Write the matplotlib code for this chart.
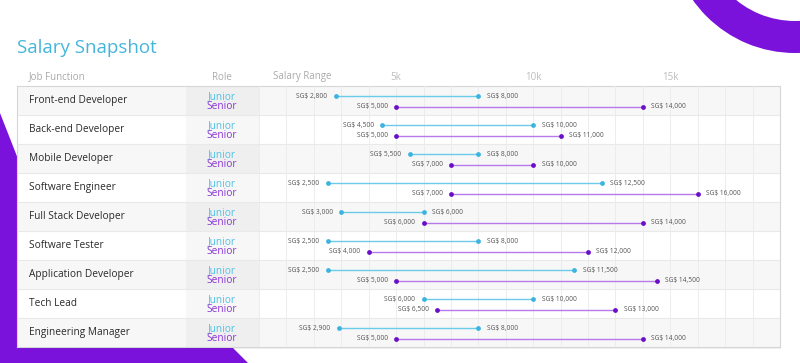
import matplotlib
matplotlib.use("Agg")
import matplotlib.pyplot as plt
from matplotlib.patches import Rectangle, Polygon, Wedge

# ---------------- data ----------------
jobs = ["Front-end Developer", "Back-end Developer", "Mobile Developer",
        "Software Engineer", "Full Stack Developer", "Software Tester",
        "Application Developer", "Tech Lead", "Engineering Manager"]
junior_min = [2800, 4500, 5500, 2500, 3000, 2500, 2500, 6000, 2900]
junior_max = [8000, 10000, 8000, 12500, 6000, 8000, 11500, 10000, 8000]
senior_min = [5000, 5000, 7000, 7000, 6000, 4000, 5000, 6500, 5000]
senior_max = [14000, 11000, 10000, 16000, 14000, 12000, 14500, 13000, 14000]
roles = ["Junior", "Senior"]
x_ticks = [5000, 10000, 15000]
x_tick_labels = ["5k", "10k", "15k"]
columns = ["Job Function", "Role", "Salary Range"]
title = "Salary Snapshot"

# ---------------- style ----------------
FONT = ["Open Sans", "DejaVu Sans"]
plt.rcParams["font.family"] = FONT
W, H = 800, 363
PURPLE = "#7a12dc"
J_LINE, J_DOT, J_TXT = "#6ccbea", "#3bb5e0", "#4fc1e6"
S_LINE, S_DOT, S_TXT = "#b779ec", "#6a0fc8", "#8a34d6"

fig = plt.figure(figsize=(W / 100, H / 100), dpi=100)

def fig_rect(x0, y0, x1, y1):
    return [x0 / W, 1 - y1 / H, (x1 - x0) / W, (y1 - y0) / H]

# decoration layer
bg = fig.add_axes([0, 0, 1, 1], zorder=0)
bg.set_xlim(0, W)
bg.set_ylim(H, 0)
bg.axis("off")
bg.add_patch(Wedge((795, -72), 125, 0, 360, width=32, color=PURPLE, lw=0))
bg.add_patch(Polygon([(0, 113), (40, 215), (40, 348), (233, 348), (248, 363), (0, 363)],
                     closed=True, color=PURPLE, lw=0))
# subtle table shadow
bg.add_patch(Rectangle((18, 87), 763, 262, color="#000000", alpha=0.06, lw=0))

TX0, TX1, TY0, TY1 = 17, 780, 86, 347
SAL_X0 = 259
n = len(jobs)

# table layer (pixel x, row y)
tab = fig.add_axes(fig_rect(TX0, TY0, TX1, TY1), zorder=1)
tab.set_xlim(TX0, TX1)
tab.set_ylim(n, 0)
tab.set_xticks([])
tab.set_yticks([])
for s in tab.spines.values():
    s.set_color("#d6d6d6")
    s.set_linewidth(0.8)
for i in range(n):
    tab.add_patch(Rectangle((TX0, i), TX1 - TX0, 1,
                            color="#f7f7f7" if i % 2 == 0 else "#ffffff", lw=0))
tab.add_patch(Rectangle((186, 0), SAL_X0 - 186, n, color="#000000", alpha=0.03, lw=0))
tab.hlines(range(1, n), TX0, TX1, color="#e9e9e9", lw=0.8)

J_OFF, S_OFF = 0.35, 0.72
for i, job in enumerate(jobs):
    tab.text(29, i + 0.5, job, va="center", ha="left", fontsize=7.3, color="#2a2a2a",
             fontweight="medium")
    tab.text(222, i + J_OFF, roles[0], va="center", ha="center", fontsize=7.3, color=J_TXT)
    tab.text(222, i + S_OFF, roles[1], va="center", ha="center", fontsize=7.3, color=S_TXT)

# salary layer
ax = fig.add_axes(fig_rect(SAL_X0, TY0, TX1, TY1), zorder=2)
ax.patch.set_alpha(0)
ax.set_xlim(0, 19000)
ax.set_ylim(n, 0)
for s in ax.spines.values():
    s.set_visible(False)
ax.set_yticks([])
ax.set_xticks(range(0, 19001, 1000), minor=True)
ax.grid(True, which="minor", axis="x", color="#ececec", lw=0.7, zorder=0)
ax.set_xticks(x_ticks)
ax.set_xticklabels(x_tick_labels)
ax.xaxis.tick_top()
ax.tick_params(axis="x", which="both", length=0, pad=2.5, labelsize=7, labelcolor="#bdbdbd")
ax.grid(True, which="major", axis="x", color="#ececec", lw=0.7, zorder=0)

def fmt(v):
    return f"SG$ {v:,}"

for i in range(n):
    for lo, hi, off, lc, dc in ((junior_min[i], junior_max[i], J_OFF, J_LINE, J_DOT),
                                (senior_min[i], senior_max[i], S_OFF, S_LINE, S_DOT)):
        y = i + off
        ax.hlines(y, lo, hi, color=lc, lw=1.0, zorder=3)
        ax.scatter([lo, hi], [y, y], s=12, color=dc, zorder=4, lw=0)
        ax.annotate(fmt(lo), (lo, y), xytext=(-6, 0), textcoords="offset points",
                    ha="right", va="center", fontsize=4.8, color="#555555")
        ax.annotate(fmt(hi), (hi, y), xytext=(6, 0), textcoords="offset points",
                    ha="left", va="center", fontsize=4.8, color="#555555")

# header + title
hy = 1 - 77 / H
fig.text(29 / W, hy, columns[0], fontsize=7, color="#aaaaaa", va="center", ha="left")
fig.text(222 / W, hy, columns[1], fontsize=7, color="#aaaaaa", va="center", ha="center")
fig.text(273 / W, hy, columns[2], fontsize=7, color="#aaaaaa", va="center", ha="left")
fig.text(17 / W, 1 - 48 / H, title, fontsize=13.5, color="#45b6da", va="center", ha="left")

fig.savefig("out.png", dpi=100)
